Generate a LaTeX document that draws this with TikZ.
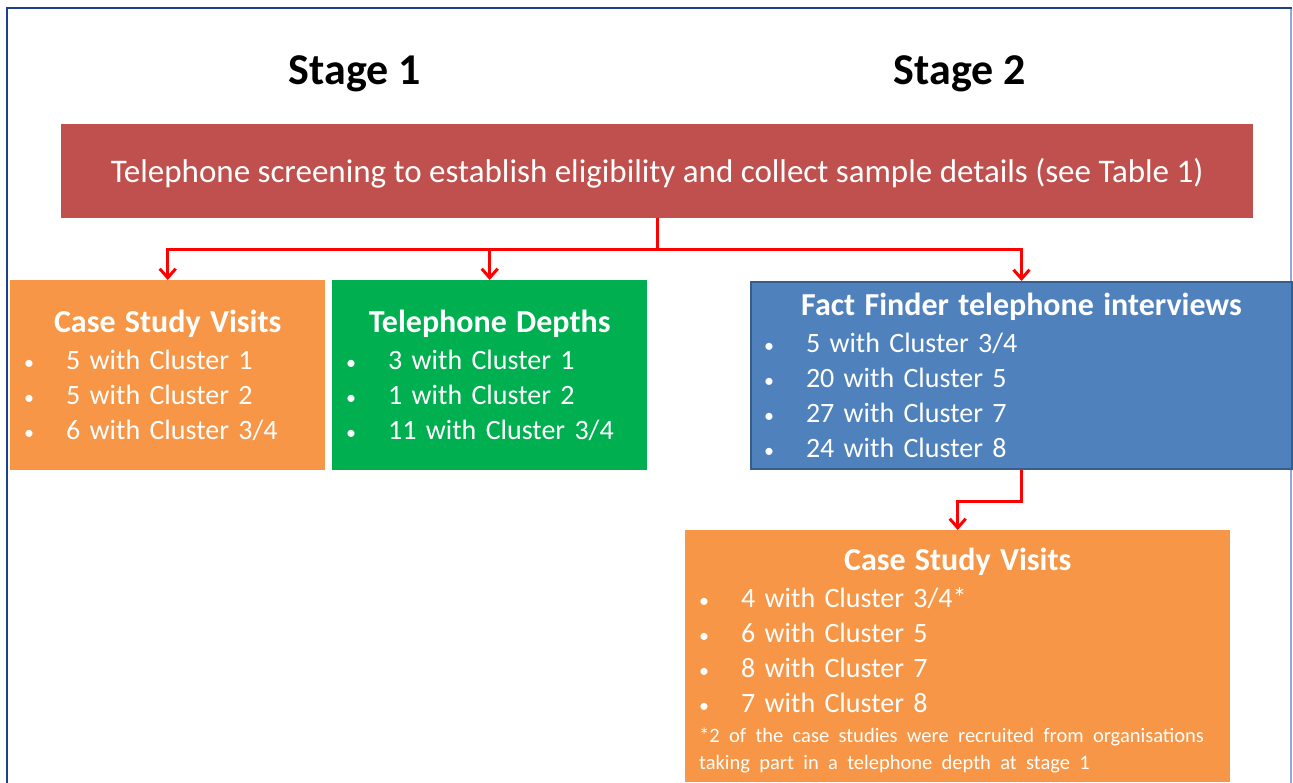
\documentclass[tikz,border=0pt]{standalone}
\usepackage{fontspec}
\setmainfont{Carlito}
\usetikzlibrary{arrows.meta}

% colours of the boxes and lines
\definecolor{bannerred}{HTML}{C0504D}
\definecolor{caseorange}{HTML}{F79646}
\definecolor{depthgreen}{HTML}{00B050}
\definecolor{finderblue}{HTML}{4F81BD}
\definecolor{finderedge}{HTML}{385D8A}
\definecolor{framenavy}{HTML}{1F3F8F}
\definecolor{frameedge}{HTML}{8FA8D6}

% one bullet line, and a centred bold heading inside a box
% (optional argument: height of a strut that pushes the heading down)
\newcommand{\bul}[1]{\makebox[42pt][l]{\fontsize{20}{20}\selectfont •}#1\par}
\newcommand{\boxtitle}[2][0pt]{{\centering\fontsize{32}{38}\selectfont\bfseries\rule{0pt}{#1}#2\par}\vspace{2pt}}
\newcommand{\boxstart}{\raggedright\hyphenpenalty=10000\relax}

\tikzset{
  groupbox/.style={anchor=north west, text=white, inner xsep=14pt, inner ysep=0pt,
                   font=\fontsize{28}{35}\selectfont},
  stagehead/.style={anchor=base, font=\fontsize{44}{50}\selectfont\bfseries},
  conn/.style={draw=red, line width=3pt, -{Straight Barb[length=9pt,width=16pt]}}
}

\begin{document}
\begin{tikzpicture}[x=1pt,y=-1pt]
\useasboundingbox (0,0) rectangle (1293,783);

%----------------------------------------------
% Frame round the slide
%----------------------------------------------
\draw[frameedge, line width=1.5pt] (1291,9) -- (1291,783);
\draw[framenavy, line width=2pt] (6.5,783) -- (6.5,8.5) -- (1292,8.5);

%----------------------------------------------
% Headings of the two stages
%----------------------------------------------
\node[stagehead] (stage1) at (355,85) {Stage 1};
\node[stagehead] (stage2) at (960,85) {Stage 2};

%----------------------------------------------
% Screening banner
%----------------------------------------------
\node[fill=bannerred, text=white, anchor=north west, minimum width=1192pt,
      minimum height=94pt, text height=25pt, text depth=2pt,
      font=\fontsize{33}{40}\selectfont] (screen) at (61,124)
  {Telephone screening to establish eligibility and collect sample details (see Table 1)};

%----------------------------------------------
% Stage 1 boxes
%----------------------------------------------
\node[groupbox, fill=caseorange, text width=287pt, minimum height=190pt] (visits1) at (10,280)
  {\boxstart
   \boxtitle{Case Study Visits}
   \bul{5 with Cluster 1}
   \bul{5 with Cluster 2}
   \bul{6 with Cluster 3/4}};
\node[groupbox, fill=depthgreen, text width=287pt, minimum height=190pt] (depths) at (332,280)
  {\boxstart
   \boxtitle{Telephone Depths}
   \bul{3 with Cluster 1}
   \bul{1 with Cluster 2}
   \bul{11 with Cluster 3/4}};

%----------------------------------------------
% Stage 2 boxes
%----------------------------------------------
\node[groupbox, fill=finderblue, draw=finderedge, line width=2pt, inner xsep=13pt,
      text width=515pt, minimum height=187pt] (finder) at (750,281)
  {\boxstart
   \boxtitle{Fact Finder telephone interviews}
   \bul{5 with Cluster 3/4}
   \bul{20 with Cluster 5}
   \bul{27 with Cluster 7}
   \bul{24 with Cluster 8}};
\node[groupbox, fill=caseorange, text width=517pt, minimum height=252pt] (visits2) at (685,530)
  {\boxstart
   \boxtitle[32pt]{Case Study Visits}
   \bul{4 with Cluster 3/4*}
   \bul{6 with Cluster 5}
   \bul{8 with Cluster 7}
   \bul{7 with Cluster 8}
   \vspace{3pt}
   {\fontsize{20.5}{27}\selectfont
    \mbox{*2 of the case studies were recruited from organisations}\\
    \mbox{taking part in a telephone depth at stage 1}\par}};

%----------------------------------------------
% Red connectors
%----------------------------------------------
\draw[red, line width=3pt] (screen.south) -- ++(0,31) coordinate (fork);
\draw[conn] (fork) -| (visits1.north);
\draw[conn] (fork) -| (depths.north);
\draw[conn] (fork) -| (finder.north);
\draw[conn] (finder.south) -- ++(0,31) -| (visits2.north);
\end{tikzpicture}
\end{document}
